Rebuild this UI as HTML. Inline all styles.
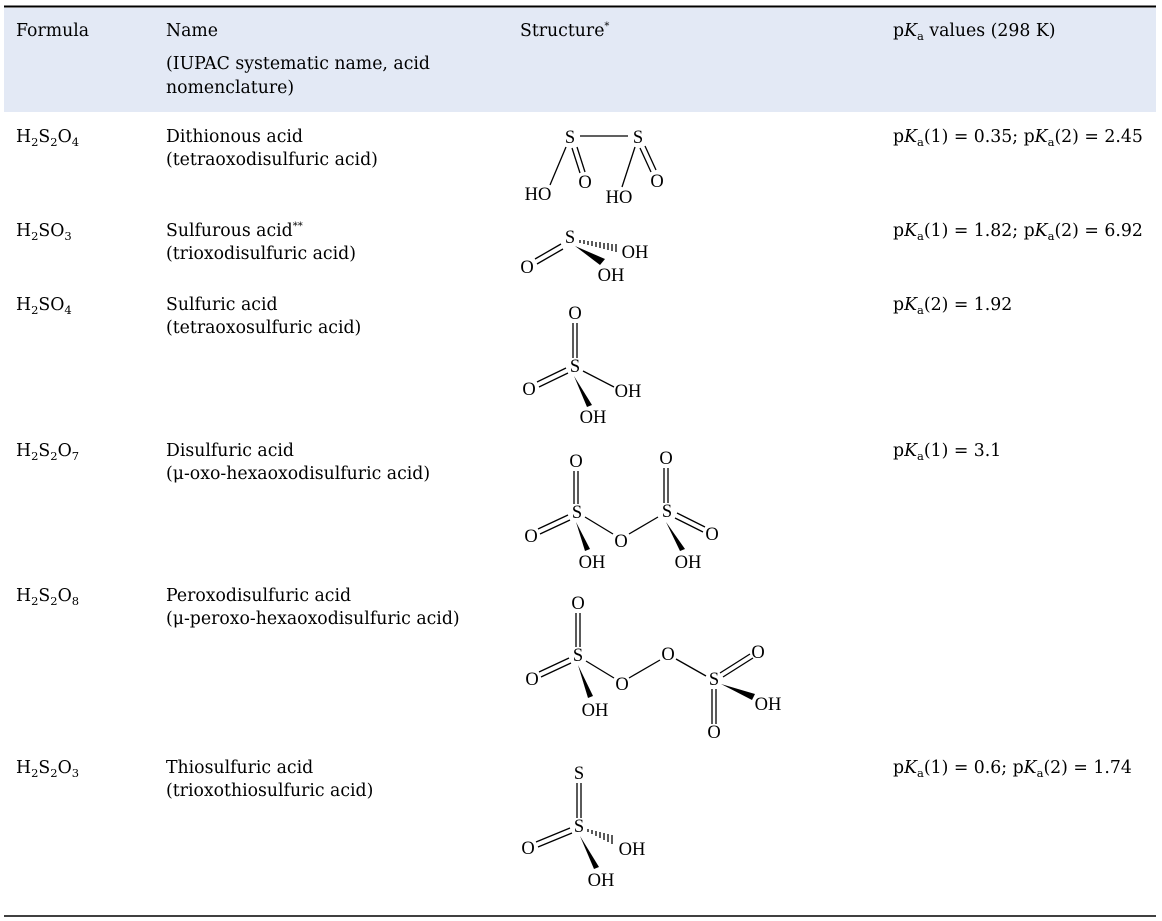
<!DOCTYPE html>
<html><head><meta charset="utf-8"><style>
body{margin:0;background:#fff}
svg{display:block}
text{font-family:"DejaVu Serif","Liberation Serif",serif;fill:#000}
.t{font-size:17.3px}
.a{font-family:"Liberation Serif",serif;font-size:18.5px;text-anchor:middle;dominant-baseline:central}
line{stroke:#000;stroke-width:1.3}
</style></head><body>
<svg width="1162" height="921" viewBox="0 0 1162 921">
<rect x="4" y="8" width="1152" height="104" fill="#e3e9f5"/>
<line x1="4" y1="6.5" x2="1156" y2="6.5" style="stroke-width:2"/>
<line x1="4" y1="916" x2="1156" y2="916" style="stroke-width:1.5"/>
<g class="t">
<text x="16" y="36" class="t">Formula</text>
<text x="166" y="36" class="t">Name</text>
<text x="166" y="69" class="t">(IUPAC systematic name, acid</text>
<text x="166" y="93" class="t">nomenclature)</text>
<text x="520" y="36" class="t">Structure<tspan font-size="10" dy="-7">*</tspan></text>
<text x="893" y="36" class="t">p<tspan font-style="italic">K</tspan><tspan font-size="11.5" dy="4">a</tspan><tspan dy="-4"> values (298 K)</tspan></text>

<text x="16" y="142" class="t">H<tspan font-size="11.5" dy="4">2</tspan><tspan dy="-4">S</tspan><tspan font-size="11.5" dy="4">2</tspan><tspan dy="-4">O</tspan><tspan font-size="11.5" dy="4">4</tspan></text>
<text x="166" y="142" class="t">Dithionous acid</text>
<text x="166" y="165" class="t">(tetraoxodisulfuric acid)</text>
<text x="893" y="142" class="t">p<tspan font-style="italic">K</tspan><tspan font-size="11.5" dy="4">a</tspan><tspan dy="-4">(1) = 0.35; p</tspan><tspan font-style="italic">K</tspan><tspan font-size="11.5" dy="4">a</tspan><tspan dy="-4">(2) = 2.45</tspan></text>

<text x="16" y="236" class="t">H<tspan font-size="11.5" dy="4">2</tspan><tspan dy="-4">SO</tspan><tspan font-size="11.5" dy="4">3</tspan></text>
<text x="166" y="236" class="t">Sulfurous acid<tspan font-size="10" dy="-7">**</tspan></text>
<text x="166" y="259" class="t">(trioxodisulfuric acid)</text>
<text x="893" y="236" class="t">p<tspan font-style="italic">K</tspan><tspan font-size="11.5" dy="4">a</tspan><tspan dy="-4">(1) = 1.82; p</tspan><tspan font-style="italic">K</tspan><tspan font-size="11.5" dy="4">a</tspan><tspan dy="-4">(2) = 6.92</tspan></text>

<text x="16" y="310" class="t">H<tspan font-size="11.5" dy="4">2</tspan><tspan dy="-4">SO</tspan><tspan font-size="11.5" dy="4">4</tspan></text>
<text x="166" y="310" class="t">Sulfuric acid</text>
<text x="166" y="333" class="t">(tetraoxosulfuric acid)</text>
<text x="893" y="310" class="t">p<tspan font-style="italic">K</tspan><tspan font-size="11.5" dy="4">a</tspan><tspan dy="-4">(2) = 1.92</tspan></text>

<text x="16" y="456" class="t">H<tspan font-size="11.5" dy="4">2</tspan><tspan dy="-4">S</tspan><tspan font-size="11.5" dy="4">2</tspan><tspan dy="-4">O</tspan><tspan font-size="11.5" dy="4">7</tspan></text>
<text x="166" y="456" class="t">Disulfuric acid</text>
<text x="166" y="479" class="t">(μ-oxo-hexaoxodisulfuric acid)</text>
<text x="893" y="456" class="t">p<tspan font-style="italic">K</tspan><tspan font-size="11.5" dy="4">a</tspan><tspan dy="-4">(1) = 3.1</tspan></text>

<text x="16" y="601" class="t">H<tspan font-size="11.5" dy="4">2</tspan><tspan dy="-4">S</tspan><tspan font-size="11.5" dy="4">2</tspan><tspan dy="-4">O</tspan><tspan font-size="11.5" dy="4">8</tspan></text>
<text x="166" y="601" class="t">Peroxodisulfuric acid</text>
<text x="166" y="624" class="t">(μ-peroxo-hexaoxodisulfuric acid)</text>

<text x="16" y="773" class="t">H<tspan font-size="11.5" dy="4">2</tspan><tspan dy="-4">S</tspan><tspan font-size="11.5" dy="4">2</tspan><tspan dy="-4">O</tspan><tspan font-size="11.5" dy="4">3</tspan></text>
<text x="166" y="773" class="t">Thiosulfuric acid</text>
<text x="166" y="796" class="t">(trioxothiosulfuric acid)</text>
<text x="893" y="773" class="t">p<tspan font-style="italic">K</tspan><tspan font-size="11.5" dy="4">a</tspan><tspan dy="-4">(1) = 0.6; p</tspan><tspan font-style="italic">K</tspan><tspan font-size="11.5" dy="4">a</tspan><tspan dy="-4">(2) = 1.74</tspan></text>
</g>

<!-- Dithionous -->
<g>
<text class="a" x="570" y="138">S</text><text class="a" x="638" y="138">S</text>
<text class="a" x="585" y="183">O</text><text class="a" x="538" y="195">HO</text>
<text class="a" x="619" y="198">HO</text><text class="a" x="657" y="182">O</text>
<line x1="580" y1="136" x2="628" y2="136"/>
<line x1="566" y1="147" x2="550" y2="185"/>
<line x1="572" y1="148" x2="580" y2="173"/><line x1="577" y1="147" x2="585" y2="172"/>
<line x1="635" y1="147" x2="622" y2="187"/>
<line x1="640" y1="148" x2="651" y2="172"/><line x1="645" y1="146" x2="656" y2="170"/>
</g>
<!-- Sulfurous -->
<g>
<text class="a" x="570" y="238">S</text><text class="a" x="527" y="268">O</text>
<text class="a" x="635" y="253">OH</text><text class="a" x="611" y="276">OH</text>
<line x1="535" y1="259" x2="561" y2="244"/><line x1="537" y1="264" x2="563" y2="249"/>
<line x1="580" y1="240" x2="580" y2="243"/><line x1="584" y1="240" x2="584" y2="244"/><line x1="588" y1="241" x2="588" y2="245"/><line x1="592" y1="241" x2="592" y2="246"/><line x1="596" y1="242" x2="596" y2="247"/><line x1="600" y1="242" x2="600" y2="248"/><line x1="604" y1="243" x2="604" y2="249"/><line x1="608" y1="243" x2="608" y2="250"/><line x1="612" y1="244" x2="612" y2="251"/><line x1="616" y1="244" x2="616" y2="252"/>
<polygon points="575,246 600,265 605,259"/>
</g>
<!-- Sulfuric -->
<g>
<text class="a" x="575" y="314">O</text><text class="a" x="575" y="367">S</text>
<text class="a" x="529" y="390">O</text><text class="a" x="628" y="392">OH</text>
<text class="a" x="593" y="418">OH</text>
<line x1="573" y1="323" x2="573" y2="358"/><line x1="577" y1="323" x2="577" y2="358"/>
<line x1="537" y1="382" x2="566" y2="368"/><line x1="539" y1="387" x2="568" y2="373"/>
<line x1="583" y1="371" x2="614" y2="387"/>
<polygon points="574,376 587,407 592,405"/>
</g>
<!-- Disulfuric -->
<g>
<text class="a" x="576" y="462">O</text><text class="a" x="577" y="513">S</text>
<text class="a" x="531" y="537">O</text><text class="a" x="621" y="542">O</text>
<text class="a" x="667" y="512">S</text><text class="a" x="666" y="459">O</text>
<text class="a" x="712" y="535">O</text><text class="a" x="592" y="563">OH</text>
<text class="a" x="688" y="563">OH</text>
<line x1="574" y1="471" x2="574" y2="504"/><line x1="578" y1="471" x2="578" y2="504"/>
<line x1="538" y1="529" x2="568" y2="515"/><line x1="540" y1="534" x2="570" y2="520"/>
<line x1="585" y1="517" x2="613" y2="534"/><line x1="629" y1="534" x2="658" y2="517"/>
<line x1="664" y1="468" x2="664" y2="503"/><line x1="668" y1="468" x2="668" y2="503"/>
<line x1="675" y1="518" x2="703" y2="532"/><line x1="677" y1="513" x2="705" y2="527"/>
<polygon points="576,522 585,551 590,549"/>
<polygon points="666,522 680,551 685,549"/>
</g>
<!-- Peroxo -->
<g>
<text class="a" x="578" y="604">O</text><text class="a" x="578" y="656">S</text>
<text class="a" x="532" y="680">O</text><text class="a" x="622" y="685">O</text>
<text class="a" x="668" y="655">O</text><text class="a" x="714" y="680">S</text>
<text class="a" x="758" y="653">O</text><text class="a" x="768" y="705">OH</text>
<text class="a" x="714" y="733">O</text><text class="a" x="595" y="711">OH</text>
<line x1="576" y1="613" x2="576" y2="647"/><line x1="580" y1="613" x2="580" y2="647"/>
<line x1="539" y1="672" x2="569" y2="658"/><line x1="541" y1="677" x2="571" y2="663"/>
<line x1="586" y1="661" x2="614" y2="678"/><line x1="629" y1="678" x2="660" y2="660"/>
<line x1="676" y1="659" x2="706" y2="676"/>
<line x1="720" y1="673" x2="750" y2="654"/><line x1="723" y1="677" x2="753" y2="658"/>
<line x1="712" y1="689" x2="712" y2="724"/><line x1="716" y1="689" x2="716" y2="724"/>
<polygon points="578,665 588,698 593,696"/>
<polygon points="721,684 752,700 755,694"/>
</g>
<!-- Thiosulfuric -->
<g>
<text class="a" x="579" y="774">S</text><text class="a" x="579" y="827">S</text>
<text class="a" x="528" y="849">O</text><text class="a" x="632" y="850">OH</text>
<text class="a" x="601" y="881">OH</text>
<line x1="577" y1="783" x2="577" y2="818"/><line x1="581" y1="783" x2="581" y2="818"/>
<line x1="536" y1="842" x2="570" y2="828"/><line x1="538" y1="847" x2="572" y2="833"/>
<line x1="588" y1="829" x2="588" y2="832"/><line x1="592" y1="830" x2="592" y2="834"/><line x1="596" y1="831" x2="596" y2="836"/><line x1="600" y1="832" x2="600" y2="838"/><line x1="604" y1="833" x2="604" y2="840"/><line x1="608" y1="834" x2="608" y2="842"/><line x1="612" y1="835" x2="612" y2="844"/>
<polygon points="580,836 594,869 599,867"/>
</g>
</svg>
</body></html>
